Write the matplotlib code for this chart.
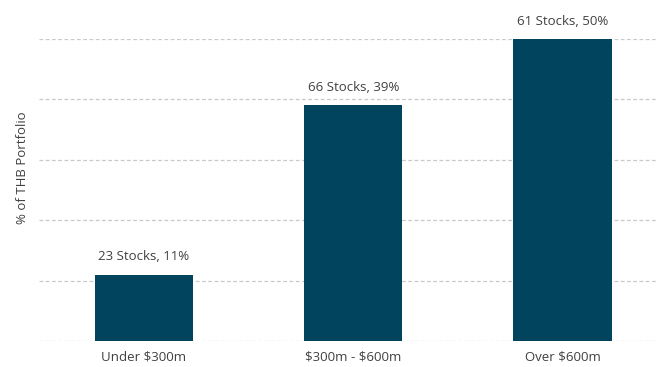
import matplotlib
matplotlib.use("Agg")
import matplotlib.pyplot as plt

plt.rcParams['text.parse_math'] = False

categories = ["Under $300m", "$300m - $600m", "Over $600m"]
pct = [11, 39, 50]
stocks = [23, 66, 61]

W, H = 657, 367
fig = plt.figure(figsize=(W/100, H/100), dpi=100)
ax = fig.add_axes([39/W, (H-341)/H, (657-39)/W, (341-39)/H])
plt.rcParams['font.family'] = ['Open Sans', 'DejaVu Sans']

x = list(range(len(categories)))
bars = ax.bar(x, pct, width=0.47, color="#01445e", zorder=3)
ax.set_xlim(-0.5, 2.45)
ax.set_ylim(0, 50)
ax.set_yticks([0, 10, 20, 30, 40, 50])
ax.yaxis.grid(True, linestyle=(0, (3, 2)), color="#c9c9c9", linewidth=0.9, zorder=0)
ax.tick_params(axis='y', left=False, labelleft=False)
ax.tick_params(axis='x', bottom=False, labelsize=9.5, labelcolor="#404040", pad=3)
ax.set_xticks(x)
ax.set_xticklabels(categories, family=['Open Sans', 'DejaVu Sans'])
for s in ax.spines.values():
    s.set_visible(False)

for xi, p, s in zip(x, pct, stocks):
    ax.annotate(f"{s} Stocks, {p}%", (xi, p), xytext=(0, 8), textcoords="offset points",
                ha="center", va="bottom", fontsize=9.5, color="#404040",
                family=['Open Sans', 'DejaVu Sans'])

fig.text(23/W, 1 - 168/H, "% of THB Portfolio", rotation=90, ha="center", va="center",
         fontsize=9.5, color="#404040", family=['Open Sans', 'DejaVu Sans'])

fig.savefig("out.png", dpi=100)
